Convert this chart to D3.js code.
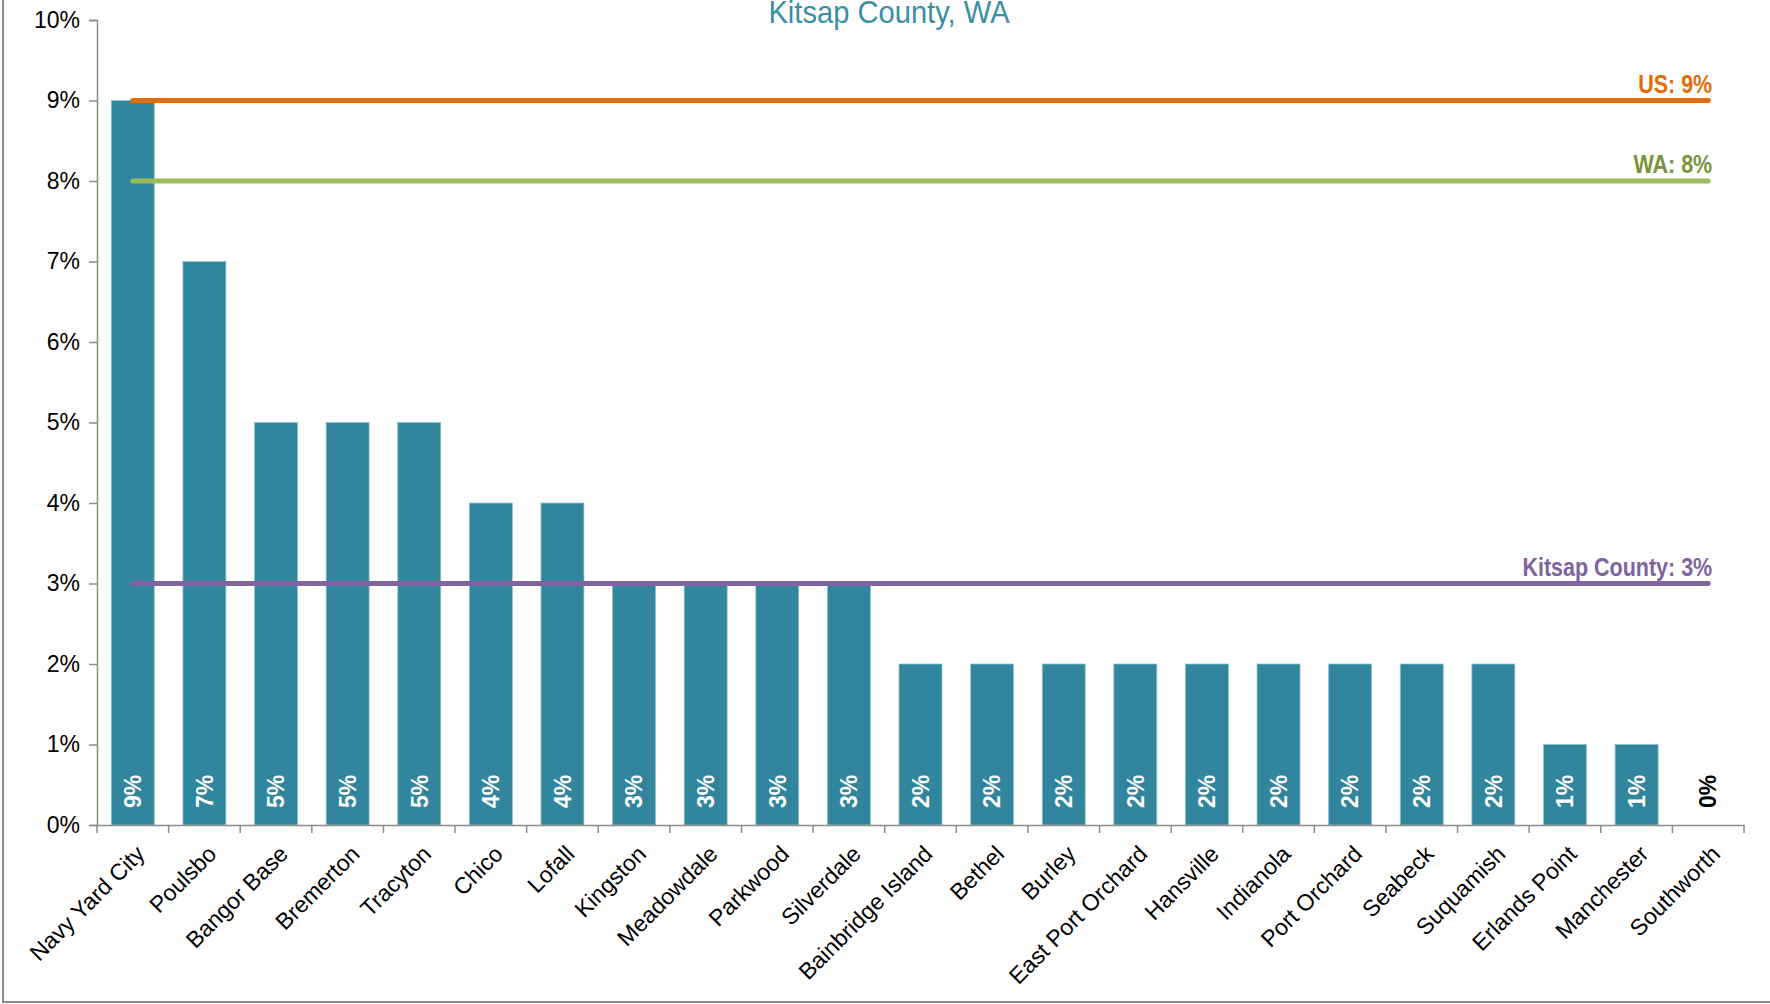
<!DOCTYPE html>
<html>
<head>
<meta charset="utf-8">
<script src="https://cdn.jsdelivr.net/npm/d3@7"></script>
<style>
  body { margin: 0; background: #fff; }
  svg { display: block; font-family: "Liberation Sans", Arial, sans-serif; }
  .narrow { font-family: "Liberation Sans Narrow", "Arial Narrow", "Liberation Sans", sans-serif; font-weight: bold; }
</style>
</head>
<body>
<svg width="1770" height="1004"></svg>
<script>
// places and their values (percent)
var places = ["Navy Yard City", "Poulsbo", "Bangor Base", "Bremerton", "Tracyton", "Chico", "Lofall",
  "Kingston", "Meadowdale", "Parkwood", "Silverdale", "Bainbridge Island", "Bethel", "Burley",
  "East Port Orchard", "Hansville", "Indianola", "Port Orchard", "Seabeck", "Suquamish",
  "Erlands Point", "Manchester", "Southworth"];
var values = [9, 7, 5, 5, 5, 4, 4, 3, 3, 3, 3, 2, 2, 2, 2, 2, 2, 2, 2, 2, 1, 1, 0];

// reference lines
var refNames = ["US", "WA", "Kitsap County"];
var refValues = [9, 8, 3];
var refColors = ["#e46c0a", "#9bbb59", "#8064a2"];
var refTextColors = ["#e36c09", "#77933c", "#7f63a1"];

var yTicks = [0, 1, 2, 3, 4, 5, 6, 7, 8, 9, 10];

var svg = d3.select("svg");
var plotLeft = 97, plotRight = 1744, plotTop = 20, plotBottom = 825;

var x = d3.scaleBand().domain(places).range([plotLeft, plotRight]).padding(0);
var y = d3.scaleLinear().domain([0, 10]).range([plotBottom, plotTop]);
var bw = x.bandwidth();

// frame
svg.append("path")
  .attr("d", "M3,0V1002H1770")
  .attr("fill", "none").attr("stroke", "#8c8c8c").attr("stroke-width", 2);

// title (slightly condensed like the original)
svg.append("text")
  .attr("transform", "translate(889,23) scale(0.94,1)")
  .attr("text-anchor", "middle")
  .attr("font-size", 31)
  .attr("fill", "#3a8ea5")
  .text("Kitsap County, WA");

// bars
svg.selectAll("rect.bar")
  .data(values)
  .enter()
  .append("rect")
    .attr("class", "bar")
    .attr("x", function(d, i) {return x(places[i]) + bw * 0.2;})
    .attr("width", bw * 0.6)
    .attr("y", function(d) {return y(d);})
    .attr("height", function(d) {return plotBottom - y(d);})
    .attr("fill", "#31859c")
    .attr("stroke", function(d) {return d > 0 ? "#8fc3d1" : "none";})
    .attr("stroke-width", 0.8);

// axes
var yAxis = svg.append("g")
  .attr("transform", "translate(" + plotLeft + ",0)")
  .call(d3.axisLeft(y).tickValues(yTicks).tickSize(8).tickPadding(9)
    .tickFormat(function(d) {return d + "%";}));
yAxis.selectAll("text").attr("font-size", 23).attr("fill", "#000");

var xAxis = svg.append("g")
  .attr("transform", "translate(0," + plotBottom + ")")
  .call(d3.axisBottom(x).tickSize(0).tickFormat(""));
xAxis.selectAll(".tick").remove();
xAxis.selectAll("line.sep")
  .data(places.concat(["end"]))
  .enter()
  .append("line")
    .attr("class", "sep")
    .attr("x1", function(d, i) {return i < places.length ? x(d) : plotRight;})
    .attr("x2", function(d, i) {return i < places.length ? x(d) : plotRight;})
    .attr("y1", 0).attr("y2", 8);
svg.selectAll(".domain, .tick line, line.sep")
  .attr("stroke", "#8c8c8c").attr("stroke-width", 1.5);

xAxis.selectAll("text.lab")
  .data(places)
  .enter()
  .append("text")
    .attr("class", "lab")
    .attr("transform", function(d) {
      return "translate(" + (x(d) + bw / 2 + 2) + ",19) rotate(-45)";
    })
    .attr("text-anchor", "end")
    .attr("dy", "0.7em")
    .attr("font-size", 23)
    .attr("fill", "#000")
    .text(function(d) {return d;});

// reference lines
var x0 = x(places[0]) + bw / 2, x1 = x(places[places.length - 1]) + bw / 2;
svg.selectAll("line.ref")
  .data(refValues)
  .enter()
  .append("line")
    .attr("class", "ref")
    .attr("x1", x0).attr("x2", x1)
    .attr("y1", function(d) {return y(d);})
    .attr("y2", function(d) {return y(d);})
    .attr("stroke", function(d, i) {return refColors[i];})
    .attr("stroke-width", 5)
    .attr("stroke-linecap", "round");

svg.selectAll("text.ref")
  .data(refValues)
  .enter()
  .append("text")
    .attr("class", "ref narrow")
    .attr("transform", function(d) {
      return "translate(" + (x1 + 4) + "," + (y(d) - 8) + ") scale(0.86,1)";
    })
    .attr("text-anchor", "end")
    .attr("font-size", 25)
    .attr("fill", function(d, i) {return refTextColors[i];})
    .text(function(d, i) {return refNames[i] + ": " + d + "%";});

// bar value labels
svg.selectAll("text.val")
  .data(values)
  .enter()
  .append("text")
    .attr("class", "val")
    .attr("transform", function(d, i) {
      return "translate(" + (x(places[i]) + bw / 2) + "," + (plotBottom - 17) + ") rotate(-90)";
    })
    .attr("dy", "0.36em")
    .attr("font-size", 23)
    .attr("font-weight", "bold")
    .attr("fill", function(d) {return d === 0 ? "#000" : "#fff";})
    .text(function(d) {return d + "%";});
</script>
</body>
</html>
